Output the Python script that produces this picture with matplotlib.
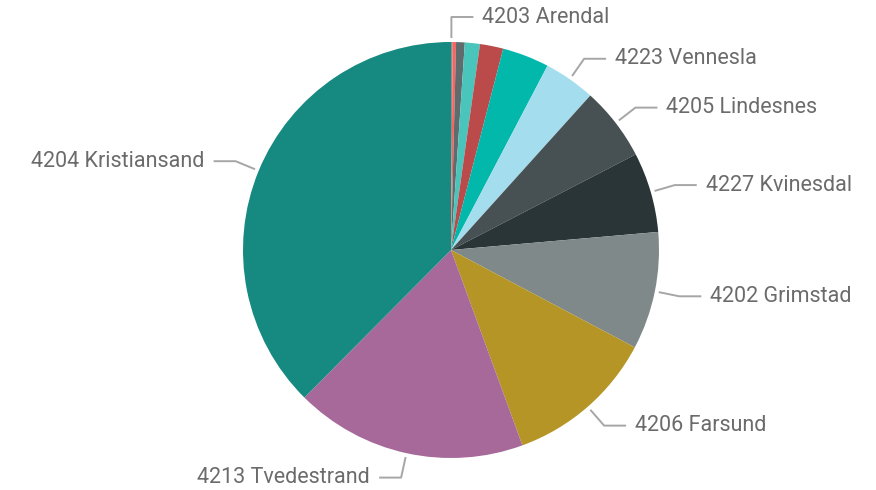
import numpy as np
import matplotlib.pyplot as plt

# slices in clockwise order from 12 o'clock (share of total, %)
labels = ["4203 Arendal", "", "", "", "", "", "4223 Vennesla", "4205 Lindesnes",
          "4227 Kvinesdal", "4202 Grimstad", "4206 Farsund", "4213 Tvedestrand",
          "4204 Kristiansand"]
values = [0.13, 0.26, 0.67, 1.17, 1.81, 3.64, 4.0, 5.72, 6.22, 9.14, 11.67, 18.03, 37.56]
colors = ["#8C8C8C", "#FD625E", "#5F6B6D", "#4AC5BB", "#BB4A4A", "#01B8AA", "#A4DDEE",
          "#475052", "#293537", "#7F898A", "#B59525", "#A66999", "#168980"]

W, H = 876, 490
fig = plt.figure(figsize=(W / 100, H / 100), dpi=100)
ax = fig.add_axes([0, 0, 1, 1])

cx, cy, r = 451, 240, 208
wedges, _ = ax.pie(values, colors=colors, startangle=90, counterclock=False,
                   center=(cx, cy), radius=r, wedgeprops=dict(linewidth=0))
ax.set_xlim(0, W)
ax.set_ylim(0, H)
ax.set_aspect("equal")
ax.axis("off")

line_col = "#A6A6A6"
text_col = "#6B6B6B"
for w, lab in zip(wedges, labels):
    if not lab:
        continue
    ang = np.deg2rad((w.theta1 + w.theta2) / 2)
    if lab == "4203 Arendal":
        ang = np.deg2rad(w.theta2 - 0.1)
    dx, dy = np.cos(ang), np.sin(ang)
    x0, y0 = cx + (r + 4) * dx, cy + (r + 4) * dy
    x1, y1 = cx + (r + 25) * dx, cy + (r + 25) * dy
    side = 1 if dx >= -0.01 else -1
    x2 = x1 + side * 22
    ax.plot([x0, x1, x2], [y0, y1, y1], color=line_col, lw=1.4,
            solid_capstyle="butt")
    ax.text(x2 + side * 9, y1, lab, ha="left" if side > 0 else "right",
            va="center", fontsize=15.5, color=text_col, family="Roboto")

fig.savefig("out.png", dpi=100)
